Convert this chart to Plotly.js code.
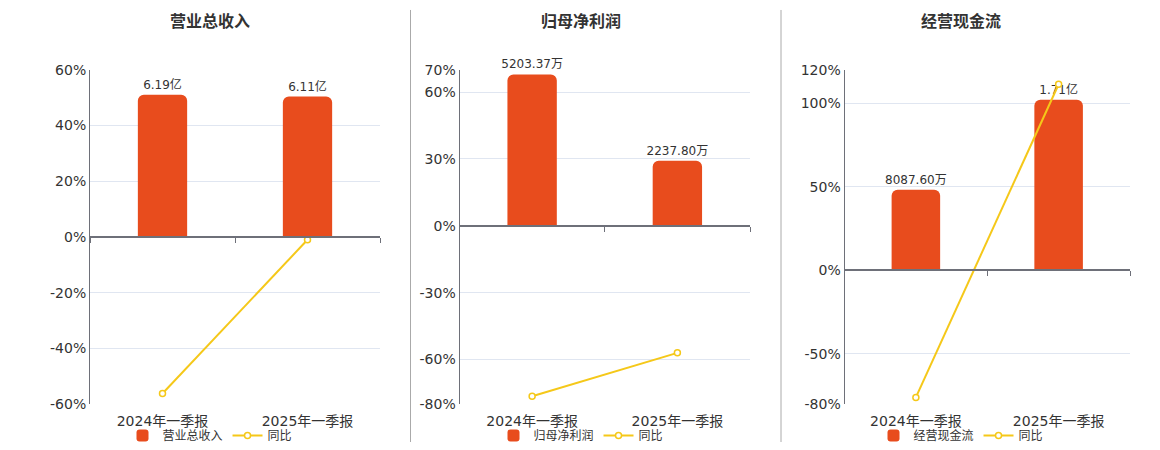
<!DOCTYPE html>
<html>
<head>
<meta charset="utf-8">
<script src="https://cdn.plot.ly/plotly-3.0.1.min.js"></script>
<style>html,body{margin:0;padding:0;background:#fff;}#chart{width:1160px;height:450px;}</style>
</head>
<body>
<div id="chart"></div>
<script>
// ---- data ----
const categories = ['2024年一季报', '2025年一季报'];
const titles = ['营业总收入', '归母净利润', '经营现金流'];
const revenueValues = [6.19, 6.11];            // 亿
const revenueLabels = ['6.19亿', '6.11亿'];
const revenueYoY = [-56.2, -1.0];              // %
const profitValues = [5203.37, 2237.80];       // 万
const profitLabels = ['5203.37万', '2237.80万'];
const profitYoY = [-76.5, -57.0];
const cashValues = [0.808760, 1.71];           // 亿
const cashLabels = ['8087.60万', '1.71亿'];
const cashYoY = [-76.0, 111.4];
const pctTicks1 = [-60, -40, -20, 0, 20, 40, 60];
const pctTicks2 = [-80, -60, -30, 0, 30, 60, 70];
const pctTicks3 = [-80, -50, 0, 50, 100, 120];

// ---- styling / layout ----
const FONT = 'DejaVu Sans, Noto Sans CJK SC, sans-serif';
const BAR = '#E84C1D';
const LINE = '#F5C819';
const W = 1160, H = 450;
const yDom = [(H - 405) / H, (H - 70) / H];
const xDoms = [[90 / W, 380 / W], [459.5 / W, 750 / W], [844.5 / W, 1130 / W]];
const barTops = [7.27, 5360, 2.011];
const titleX = [210, 581, 961];

const panels = [
  {vals: revenueValues, labels: revenueLabels, yoy: revenueYoY, ticks: pctTicks1},
  {vals: profitValues, labels: profitLabels, yoy: profitYoY, ticks: pctTicks2},
  {vals: cashValues, labels: cashLabels, yoy: cashYoY, ticks: pctTicks3}
];

const data = [];
const layout = {
  width: W, height: H,
  margin: {l: 0, r: 0, t: 0, b: 0},
  paper_bgcolor: '#fff', plot_bgcolor: 'rgba(0,0,0,0)',
  font: {family: FONT, size: 12, color: '#333'},
  showlegend: true,
  annotations: [],
  shapes: [
    {type: 'line', xref: 'paper', yref: 'paper', x0: 410.5 / W, x1: 410.5 / W, y0: 1 - 10 / H, y1: 1 - 443 / H, line: {color: '#aaaaaa', width: 1}},
    {type: 'line', xref: 'paper', yref: 'paper', x0: 781 / W, x1: 781 / W, y0: 1 - 10 / H, y1: 1 - 443 / H, line: {color: '#aaaaaa', width: 1}}
  ]
};

panels.forEach((p, i) => {
  const n = i + 1;
  const xa = n === 1 ? 'x' : 'x' + n;
  const ya = n === 1 ? 'y' : 'y' + n;
  const xZ = 'x' + (n + 3);
  const yP = 'y' + (n + 3);
  const lg = n === 1 ? 'legend' : 'legend' + n;
  const pmin = p.ticks[0], pmax = p.ticks[p.ticks.length - 1];

  data.push({
    type: 'bar', x: categories, y: p.vals, name: titles[i],
    xaxis: xa, yaxis: ya, legend: lg,
    width: 0.34,
    marker: {color: BAR, cornerradius: 6},
    text: p.labels, textposition: 'outside', cliponaxis: false, constraintext: 'none',
    textfont: {family: FONT, size: 12, color: '#333'},
    hoverinfo: 'x+text'
  });
  data.push({
    type: 'scatter', mode: 'lines+markers', x: categories, y: p.yoy, name: '同比',
    xaxis: xZ, yaxis: yP, legend: lg,
    line: {color: LINE, width: 2},
    marker: {symbol: 'circle', size: 6, color: '#fff', line: {color: LINE, width: 1.5}},
    cliponaxis: false
  });

  layout['xaxis' + (n === 1 ? '' : n)] = {
    domain: xDoms[i], anchor: ya, type: 'category',
    range: [-0.5, 1.5], showline: false, ticks: '', showgrid: false, zeroline: false,
    ticklabelstandoff: 7,
    tickfont: {family: FONT, size: 14, color: '#333'}, fixedrange: true
  };
  layout['yaxis' + (n === 1 ? '' : n)] = {
    domain: yDom, anchor: xa, visible: false,
    range: [barTops[i] * pmin / pmax, barTops[i]], fixedrange: true
  };
  const zeroPos = yDom[0] + (0 - pmin) / (pmax - pmin) * (yDom[1] - yDom[0]);
  layout['xaxis' + (n + 3)] = {
    overlaying: xa, anchor: 'free', position: zeroPos, type: 'category',
    range: [-0.5, 1.5], tickson: 'boundaries', showticklabels: false,
    ticks: 'outside', ticklen: 5, tickcolor: '#6E7079', tickwidth: 1,
    showline: true, linecolor: '#6E7079', linewidth: 2,
    showgrid: false, zeroline: false, fixedrange: true
  };
  layout['yaxis' + (n + 3)] = {
    overlaying: ya, anchor: xa, side: 'left',
    range: [pmin, pmax], tickvals: p.ticks, ticktext: p.ticks.map(t => t + '%'),
    showgrid: true, gridcolor: '#E0E6F1', gridwidth: 1,
    zeroline: false, showline: true, linecolor: '#6E7079', linewidth: 1,
    ticks: '', tickfont: {family: FONT, size: 14, color: '#333'}, fixedrange: true
  };
  layout[lg] = {
    orientation: 'h', x: titleX[i] / W, xanchor: 'center', y: 1 - 436 / H, yanchor: 'middle',
    font: {family: FONT, size: 12, color: '#333'}, bgcolor: 'rgba(0,0,0,0)',
    itemclick: false, itemdoubleclick: false
  };
  layout.annotations.push({
    xref: 'paper', yref: 'paper', x: titleX[i] / W, y: 1 - 22 / H, xanchor: 'center', yanchor: 'middle',
    text: '<b>' + titles[i] + '</b>', showarrow: false,
    font: {family: FONT, size: 16, color: '#333'}
  });
});

Plotly.newPlot('chart', data, layout, {displayModeBar: false, staticPlot: true});
</script>
</body>
</html>
